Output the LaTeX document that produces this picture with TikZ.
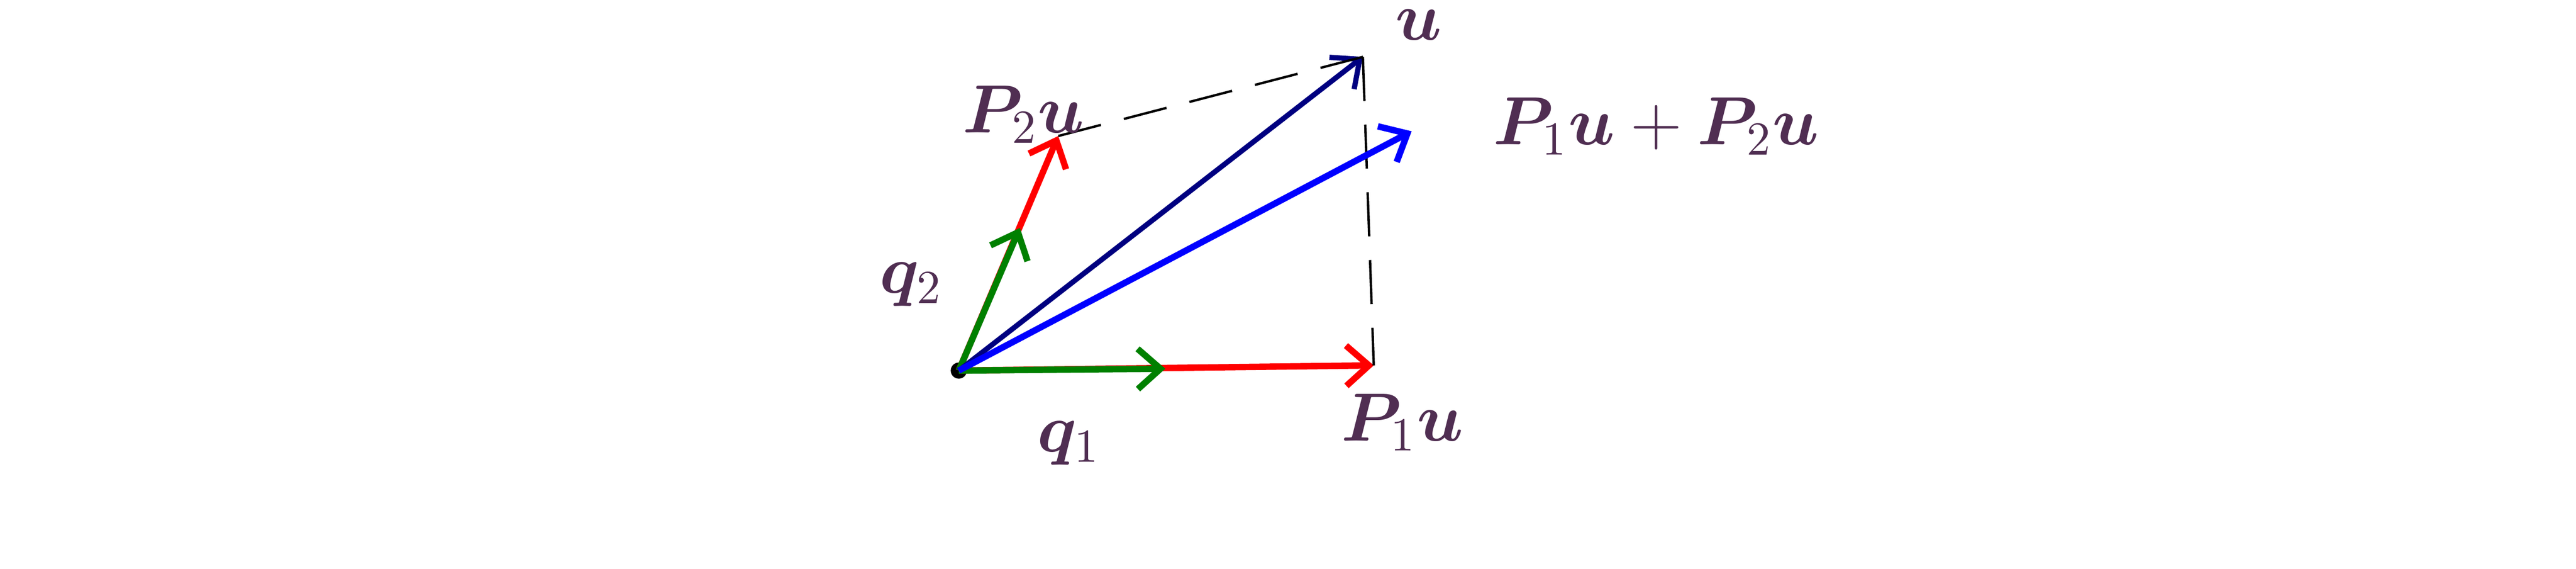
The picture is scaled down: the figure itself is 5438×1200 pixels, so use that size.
\documentclass[tikz,border=0pt]{standalone}
\usepackage{amsmath}
\usepackage{amssymb}
\usepackage{bm}
\usetikzlibrary{arrows.meta}

\definecolor{labelcol}{RGB}{80,46,82}
\definecolor{vecgreen}{RGB}{0,128,0}
\definecolor{vecnavy}{RGB}{0,0,128}

\begin{document}
\begin{tikzpicture}[
    x=0.1pt, y=-0.1pt,
    every node/.style={font=\fontsize{14.1}{17}\selectfont, text=labelcol, inner sep=0pt, anchor=base west},
    vec/.style={-{Straight Barb[length=4.8pt,width=8.5pt]}, line width=1.35pt},
    proj/.style={black, dash pattern=on 9.3pt off 5pt, line width=0.5pt}
]
    \useasboundingbox (0,0) rectangle (5438,1200);

    \coordinate (O) at (2024,782);
    \coordinate (q1) at (2460,778);
    \coordinate (P1u) at (2900,771);
    \coordinate (q2) at (2153,481);
    \coordinate (P2u) at (2234,287);
    \coordinate (u) at (2877,120);
    \coordinate (sum) at (2980,277);

    \fill (O) circle (1.7pt);
    \draw [vec, red] (O) -- (P1u);
    \draw [vec, red] (O) -- (P2u);
    \draw [vec, vecgreen] (O) -- (q1);
    \draw [vec, vecgreen] (O) -- (q2);
    \draw [vec, vecnavy, line width=1.1pt] (O) -- (u);
    \draw [proj] (P2u) -- (u);
    \draw [proj] (u) -- (P1u);
    \draw [vec, blue] (O) -- (sum);

    \node (ulab) at (2944,84) {$\bm{u}$};
    \node (p2lab) at (2030,280) {$\bm{P}_2\bm{u}$};
    \node (sumlab) at (3150,305) {$\bm{P}_1\bm{u}+\bm{P}_2\bm{u}$};
    \node (q2lab) at (1855,618) {$\bm{q}_2$};
    \node (q1lab) at (2188,953) {$\bm{q}_1$};
    \node (p1lab) at (2830,930) {$\bm{P}_1\bm{u}$};
\end{tikzpicture}
\end{document}
